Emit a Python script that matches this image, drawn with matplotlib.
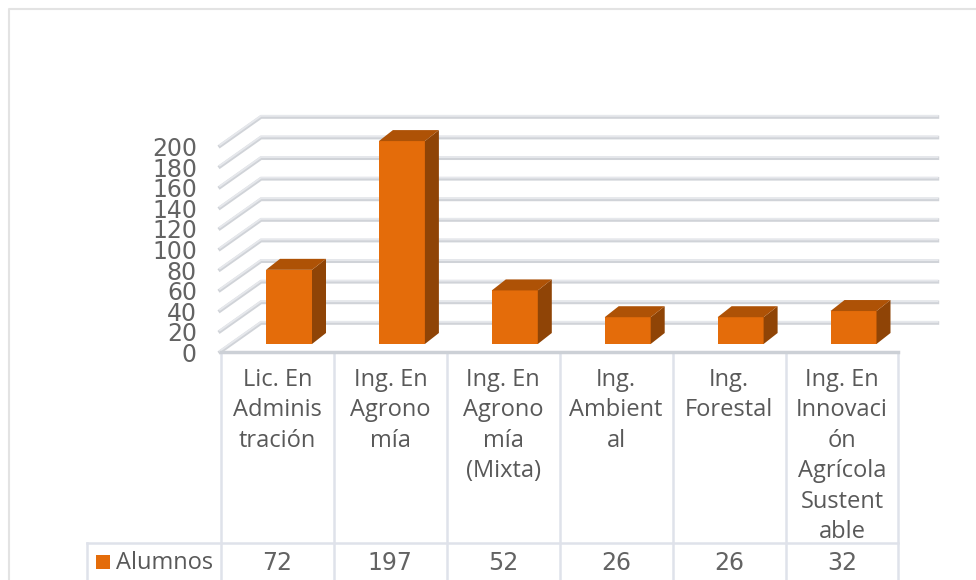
import matplotlib
matplotlib.use('Agg')
import matplotlib.pyplot as plt
from matplotlib.patches import Polygon, Rectangle

# Datos
categorias = ['Lic. En\nAdminis\ntración', 'Ing. En\nAgrono\nmía', 'Ing. En\nAgrono\nmía\n(Mixta)',
              'Ing.\nAmbient\nal', 'Ing.\nForestal', 'Ing. En\nInnovaci\nón\nAgrícola\nSustent\nable']
alumnos = [72, 197, 52, 26, 26, 32]
ticks_y = [0, 20, 40, 60, 80, 100, 120, 140, 160, 180, 200]
serie = 'Alumnos'

plt.rcParams['font.family'] = ['Open Sans', 'DejaVu Sans']

# Escalas: x en categorias, y en alumnos
px_cat = 112.9
px_val = 1.03
x0_px, y0_px = 221, 352
dx = 1 / px_cat
dy = 1 / px_val

fig = plt.figure(figsize=(9.76, 5.8), dpi=100)
ax = fig.add_axes([0, 0, 1, 1])
ax.set_xlim(-x0_px * dx, (976 - x0_px) * dx)
ax.set_ylim((y0_px - 580) * dy, y0_px * dy)
ax.axis('off')

# Marco exterior
ax.plot([976 * dx, -212 * dx, -212 * dx], [343 * dy, 343 * dy, -228 * dy], color='#e3e3e3', lw=1.5)

# Rejilla con profundidad
prof_x, prof_y = 40 * dx, 29 * dy
fin_x = 6 + 39 * dx
for t in ticks_y:
    xs = [-1 * dx, prof_x, fin_x]
    ys = [t, t + prof_y, t + prof_y]
    ax.plot(xs, ys, color='#d0d3d8', lw=2.6, solid_joinstyle='miter', zorder=1)
    ax.plot(xs, [y + 1.2 * dy for y in ys], color='#e6e8ec', lw=1.4, solid_joinstyle='miter', zorder=1)
    ax.text(-24 * dx, t - 3 * dy, str(t), ha='right', va='center', fontsize=17, color='#636363', family='DejaVu Sans')

# Barras 3D
base = 8 * dy
ancho = 46 * dx
inicio = 45 * dx
bx, by = 14 * dx, 11 * dy
for i, v in enumerate(alumnos):
    x1 = i + inicio
    x2 = x1 + ancho
    y1 = base
    y2 = base + v
    ax.add_patch(Rectangle((x1, y1), ancho, v, fc='#E46C0A', ec='none', zorder=3))
    ax.add_patch(Polygon([(x2, y1), (x2 + bx, y1 + by), (x2 + bx, y2 + by), (x2, y2)], fc='#8F4406', ec='none', zorder=3))
    ax.add_patch(Polygon([(x1, y2), (x2, y2), (x2 + bx, y2 + by), (x1 + bx, y2 + by)], fc='#AE5206', ec='none', zorder=3))

# Tabla de datos
color_tabla = '#dfe2ea'
ax.plot([0, 6], [0, 0], color='#ccd0d6', lw=2.5, zorder=4)
for i in range(7):
    ax.plot([i, i], [0, -228 * dy], color=color_tabla, lw=1.8, zorder=2)
fila_y = -191 * dy
ax.plot([-134 * dx, 6], [fila_y, fila_y], color=color_tabla, lw=1.8, zorder=2)
ax.plot([-134 * dx, -134 * dx], [fila_y, -228 * dy], color=color_tabla, lw=1.8, zorder=2)

for i, c in enumerate(categorias):
    ax.text(i + 0.5, -16 * dy, c, ha='center', va='top', fontsize=17, color='#595959', linespacing=1.355)
    ax.text(i + 0.5, -211 * dy, str(alumnos[i]), ha='center', va='center', fontsize=17, color='#636363', family='DejaVu Sans')

# Leyenda
ax.add_patch(Rectangle((-125 * dx, -217 * dy), 14 * dx, 14 * dy, fc='#E46C0A', ec='none'))
ax.text(-105 * dx, -211 * dy, serie, ha='left', va='center', fontsize=17, color='#595959')

fig.savefig('out.png', dpi=100)
